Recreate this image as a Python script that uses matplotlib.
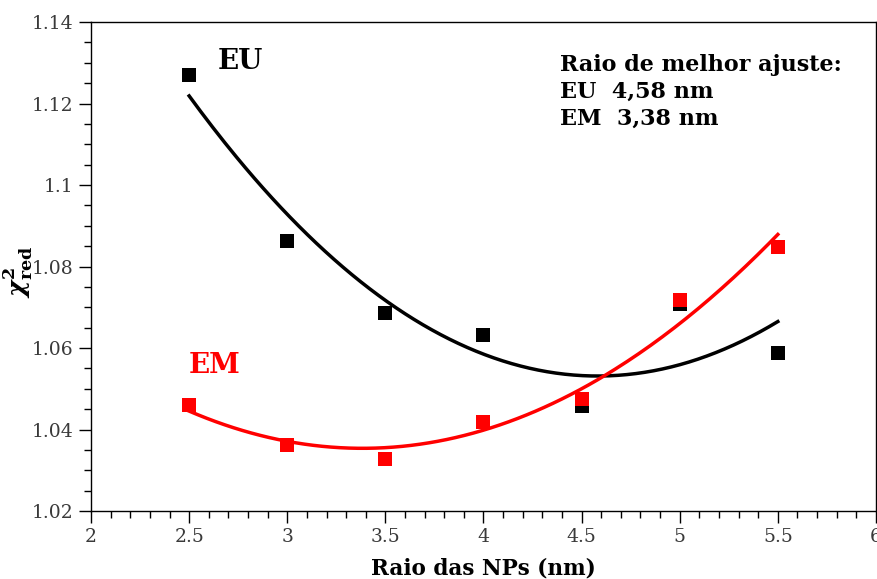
import matplotlib
matplotlib.use("Agg")
import matplotlib.pyplot as plt
import numpy as np
from matplotlib.ticker import MultipleLocator

plt.rcParams['font.family'] = 'DejaVu Serif'
plt.rcParams['mathtext.fontset'] = 'dejavuserif'

# nanoparticle radius (nm)
raio = np.array([2.5, 3.0, 3.5, 4.0, 4.5, 5.0, 5.5])

# reduced chi-square per model
chi_eu = np.array([1.1270, 1.0863, 1.0686, 1.0632, 1.0458, 1.0708, 1.0588])
chi_em = np.array([1.0460, 1.0362, 1.0328, 1.0418, 1.0475, 1.0718, 1.0848])

fig = plt.figure(figsize=(8.77, 5.79), dpi=100)
ax = fig.add_axes([0.1038, 0.1174, 0.8950, 0.8446])

# quadratic fits (vertex = best radius)
xs = np.linspace(raio.min(), raio.max(), 200)
for y, c in [(chi_eu, 'black'), (chi_em, 'red')]:
    p = np.polyfit(raio, y, 2)
    ax.plot(xs, np.polyval(p, xs), color=c, lw=2.5, zorder=2)

ax.plot(raio, chi_eu, 's', color='black', ms=9.5, mew=0, zorder=3)
ax.plot(raio, chi_em, 's', color='red', ms=9.5, mew=0, zorder=4)

ax.set_xlim(2, 6)
ax.set_ylim(1.02, 1.14)
ax.set_xticks([2, 2.5, 3, 3.5, 4, 4.5, 5, 5.5, 6])
ax.set_xticklabels(['2', '2.5', '3', '3.5', '4', '4.5', '5', '5.5', '6'])
ax.set_yticks([1.02, 1.04, 1.06, 1.08, 1.1, 1.12, 1.14])
ax.set_yticklabels(['1.02', '1.04', '1.06', '1.08', '1.1', '1.12', '1.14'])
ax.xaxis.set_minor_locator(MultipleLocator(0.1))
ax.yaxis.set_minor_locator(MultipleLocator(0.005))
ax.tick_params(which='both', direction='out', top=False, right=False,
               labelsize=13.5, labelcolor='#3a3a3a', width=1)
ax.tick_params(which='major', length=8.5, pad=4)
ax.tick_params(which='minor', length=5)
for s in ax.spines.values():
    s.set_linewidth(1)

ax.set_xlabel('Raio das NPs (nm)', fontsize=15.5, fontweight='bold', labelpad=8)
ax.set_ylabel(r'$\boldsymbol{\chi}^{\mathbf{2}}_{\mathbf{red}}$', fontsize=18)
ax.yaxis.set_label_coords(-0.071, 0.49)

ax.text(2.76, 1.1302, 'EU', fontsize=20, fontweight='bold', color='black',
        ha='center', va='center')
ax.text(2.63, 1.0558, 'EM', fontsize=20, fontweight='bold', color='red',
        ha='center', va='center')
ax.text(4.392, 1.1322, 'Raio de melhor ajuste:\nEU  4,58 nm\nEM  3,38 nm',
        fontsize=16, fontweight='bold', ha='left', va='top', linespacing=1.3)

fig.savefig('out.png', dpi=100)
